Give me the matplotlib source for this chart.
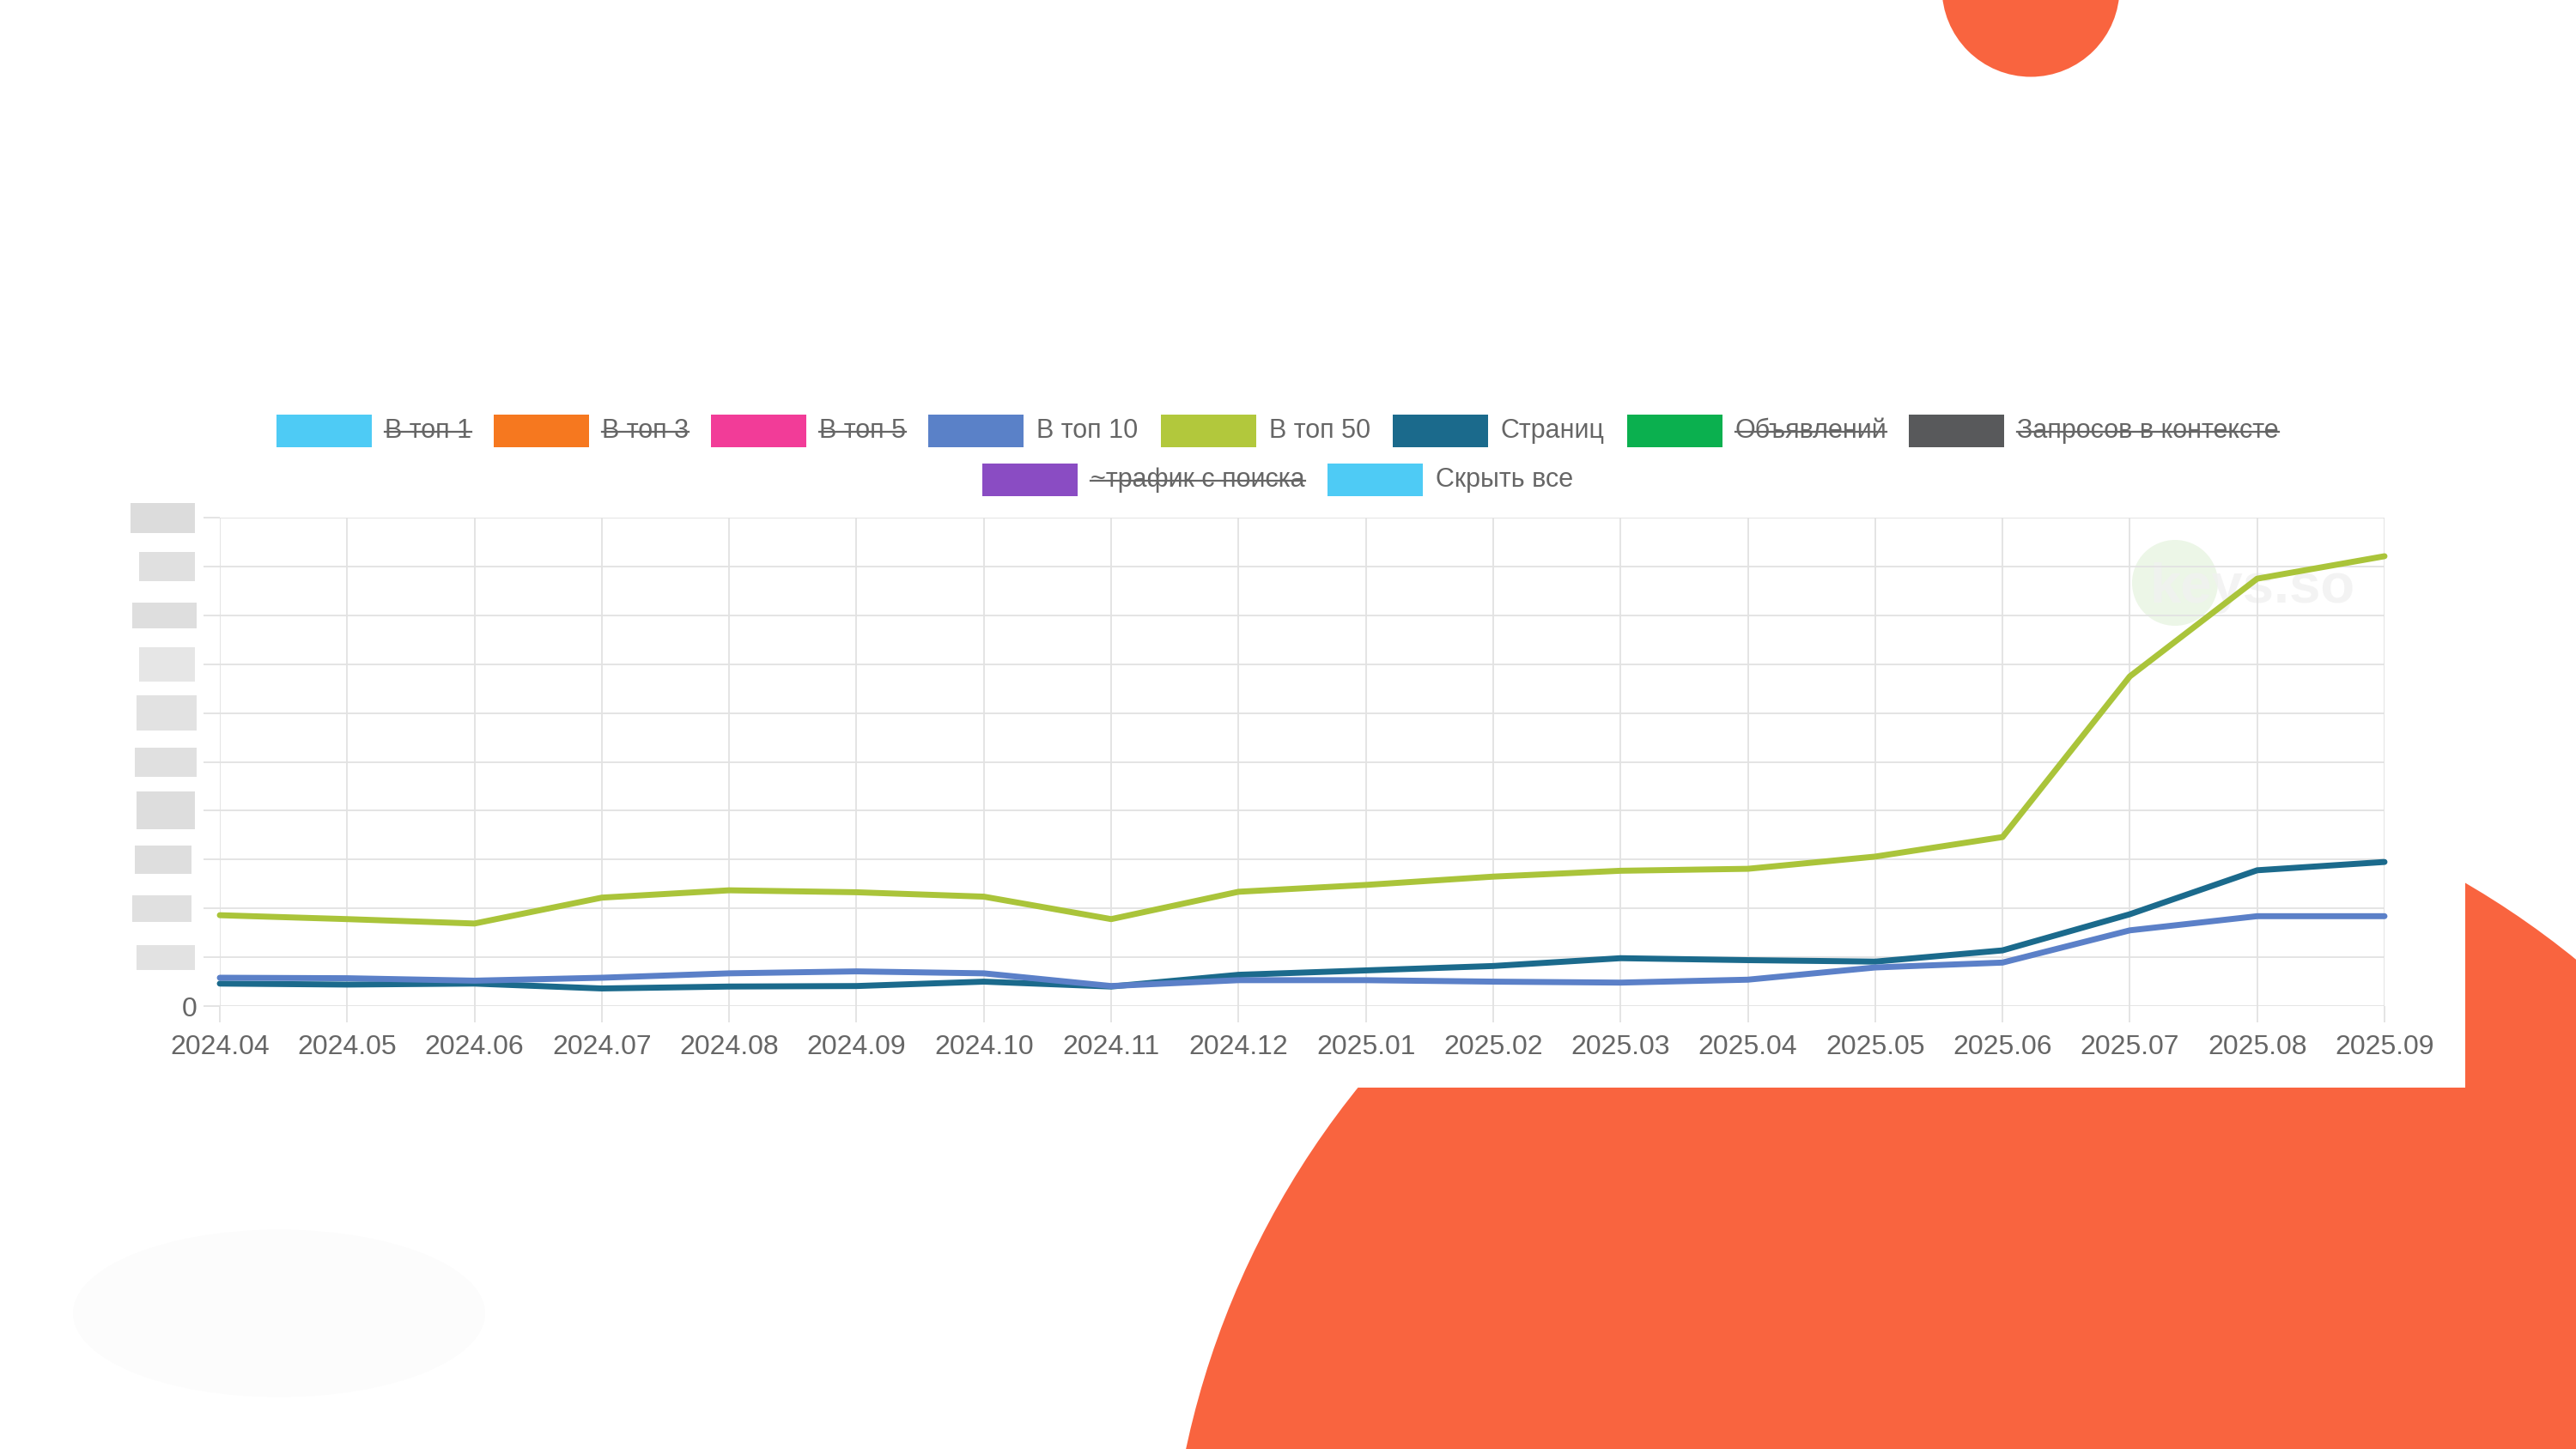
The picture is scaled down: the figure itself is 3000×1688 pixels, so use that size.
import matplotlib
matplotlib.use('Agg')
import matplotlib.pyplot as plt
from matplotlib.patches import Circle, Rectangle, Ellipse
from matplotlib.lines import Line2D
from matplotlib.transforms import blended_transform_factory
import numpy as np

FONT = ['Liberation Sans', 'DejaVu Sans']
plt.rcParams['font.family'] = FONT

# ---------------- data ----------------
months = ['2024.04', '2024.05', '2024.06', '2024.07', '2024.08', '2024.09',
          '2024.10', '2024.11', '2024.12', '2025.01', '2025.02', '2025.03',
          '2025.04', '2025.05', '2025.06', '2025.07', '2025.08', '2025.09']

top50 = [1.86, 1.78, 1.69, 2.22, 2.37, 2.33, 2.24, 1.78, 2.34, 2.48, 2.65,
         2.77, 2.81, 3.06, 3.46, 6.75, 8.75, 9.21]
pages = [0.46, 0.44, 0.46, 0.36, 0.40, 0.41, 0.50, 0.40, 0.64, 0.73, 0.82,
         0.98, 0.94, 0.91, 1.14, 1.88, 2.78, 2.95]
top10 = [0.58, 0.57, 0.52, 0.58, 0.67, 0.71, 0.67, 0.41, 0.53, 0.53, 0.50,
         0.48, 0.54, 0.79, 0.89, 1.55, 1.84, 1.84]

y_ticks = [0, 1, 2, 3, 4, 5, 6, 7, 8, 9, 10]
y_tick_labels = ['0', '', '', '', '', '', '', '', '', '', '']

legend_labels = ['В топ 1', 'В топ 3', 'В топ 5', 'В топ 10', 'В топ 50',
                 'Страниц', 'Объявлений', 'Запросов в контексте',
                 '~трафик с поиска', 'Скрыть все']
legend_colors = ['#4ecbf5', '#f6781f', '#f23c98', '#5a81c8', '#b2c83c',
                 '#1b6a8c', '#0bb04f', '#58595b', '#8a4cc3', '#4ecbf5']
legend_hidden = [True, True, True, False, False, False, True, True, True, False]
legend_rows = [8, 2]

GREEN = '#aac43a'
TEAL = '#1b6a8c'
BLUE = '#5b80c8'
ORANGE = '#f9643f'
GRID = '#e2e2e2'
TEXT = '#666666'

# ---------------- figure ----------------
W, H = 3000, 1688
fig = plt.figure(figsize=(W / 100, H / 100), dpi=100)
fig.patch.set_facecolor('white')

bg = fig.add_axes([0, 0, 1, 1])
bg.set_xlim(0, W)
bg.set_ylim(H, 0)
bg.axis('off')
bg.set_zorder(0)

# decorative shapes
bg.add_patch(Circle((2365, 1898), 1006, facecolor=ORANGE, edgecolor='none', zorder=0))
bg.add_patch(Rectangle((0, 110), 2871, 1267 - 110, facecolor='white', edgecolor='none', zorder=1))
bg.add_patch(Circle((2365, -14), 103.5, facecolor=ORANGE, edgecolor='none', zorder=2))
bg.add_patch(Ellipse((325, 1530), 480, 195, facecolor='#fcfcfc', edgecolor='none', zorder=1))

# watermark
bg.add_patch(Circle((2533, 679), 50, facecolor='#ecf6e7', edgecolor='none', zorder=2))
bg.text(2503, 702, 'keys.so', fontsize=47, fontweight='bold', color='#f1f1f1',
        alpha=0.8, ha='left', va='baseline', zorder=3)

# ---------------- chart axes ----------------
L, R, T, B = 256, 2777, 603, 1172
ax = fig.add_axes([L / W, (H - B) / H, (R - L) / W, (B - T) / H])
ax.set_zorder(2)
ax.patch.set_facecolor('none')

x = np.arange(len(months))
LW = 5.0
ax.plot(x, top50, color=GREEN, lw=LW, clip_on=False, solid_joinstyle='round',
        solid_capstyle='round', zorder=3)
ax.plot(x, pages, color=TEAL, lw=LW, clip_on=False, solid_joinstyle='round',
        solid_capstyle='round', zorder=3)
ax.plot(x, top10, color=BLUE, lw=LW, clip_on=False, solid_joinstyle='round',
        solid_capstyle='round', zorder=4)

ax.set_xlim(0, len(months) - 1)
ax.set_ylim(0, 10)
ax.set_xticks(x)
ax.set_xticklabels(months)
ax.set_yticks(y_ticks)
ax.set_yticklabels(y_tick_labels)
ax.grid(True, color=GRID, lw=1.3)
ax.set_axisbelow(True)
for s in ax.spines.values():
    s.set_visible(False)
ax.tick_params(axis='both', length=14, width=1.3, color=GRID,
               labelcolor=TEXT, labelsize=23)
ax.tick_params(axis='x', pad=10)
ax.tick_params(axis='y', pad=5)

# redacted y-axis labels (grey boxes)
trans = blended_transform_factory(bg.transData, ax.transData)
unit_px = (B - T) / 10.0
redact = [(10, 152, 227, 35), (9, 162, 227, 34), (8, 154, 229, 30),
          (7, 162, 227, 40), (6, 159, 229, 41), (5, 157, 229, 34),
          (4, 159, 227, 44), (3, 157, 223, 33), (2, 154, 223, 31),
          (1, 159, 227, 29)]
shades = ['#dcdcdc', '#e0e0e0', '#dedede', '#e6e6e6', '#e2e2e2',
          '#e0e0e0', '#dddddd', '#dedede', '#e0e0e0', '#e2e2e2']
for (v, x0, x1, hpx), sh in zip(redact, shades):
    hh = hpx / unit_px
    fig.add_artist(Rectangle((x0, v - hh / 2), x1 - x0, hh, transform=trans,
                             facecolor=sh, edgecolor='none', zorder=5))

# ---------------- legend ----------------
renderer = fig.canvas.get_renderer()
BOX_W, BOX_H, GAP, SPACE = 111, 38, 15, 26
row_y = [502, 559]
CENTER_X = 1488
texts = []
for lab in legend_labels:
    t = bg.text(0, 0, lab, fontsize=22, color=TEXT, ha='left', va='center', zorder=6)
    texts.append(t)
widths = [t.get_window_extent(renderer).width for t in texts]

idx = 0
for r, n in enumerate(legend_rows):
    items = list(range(idx, idx + n))
    idx += n
    row_w = sum(BOX_W + GAP + widths[i] for i in items) + SPACE * (n - 1)
    cx = CENTER_X - row_w / 2
    yc = row_y[r]
    for i in items:
        bg.add_patch(Rectangle((cx, yc - BOX_H / 2), BOX_W, BOX_H,
                               facecolor=legend_colors[i], edgecolor='none', zorder=6))
        tx = cx + BOX_W + GAP
        texts[i].set_position((tx, yc))
        if legend_hidden[i]:
            bg.add_line(Line2D([tx, tx + widths[i]], [yc + 1, yc + 1],
                               color=TEXT, lw=1.6, zorder=7))
        cx = tx + widths[i] + SPACE

fig.savefig('out.png', dpi=100, facecolor='white')
